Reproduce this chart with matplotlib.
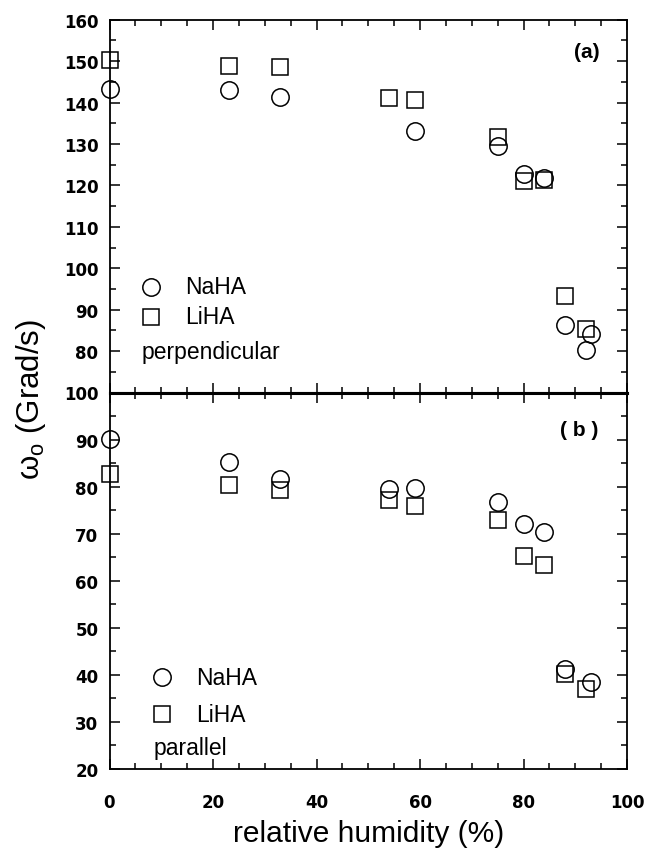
import matplotlib
matplotlib.use('Agg')
import matplotlib.pyplot as plt
from matplotlib.ticker import MultipleLocator

plt.rcParams['font.family'] = ['Liberation Sans', 'DejaVu Sans']
plt.rcParams['mathtext.fontset'] = 'custom'
plt.rcParams['mathtext.rm'] = 'Liberation Sans'

# (a) perpendicular
perp_na_x = [0, 23, 33, 59, 75, 80, 84, 88, 92, 93]
perp_na_y = [143.2, 143.0, 141.3, 133.2, 129.5, 122.7, 121.9, 86.4, 80.2, 84.2]
perp_li_x = [0, 23, 33, 54, 59, 75, 80, 84, 88, 92]
perp_li_y = [150.2, 148.8, 148.6, 141.2, 140.7, 131.6, 121.0, 121.3, 93.3, 85.4]

# (b) parallel
par_na_x = [0, 23, 33, 54, 59, 75, 80, 84, 88, 93]
par_na_y = [90.1, 85.2, 81.6, 79.4, 79.7, 76.7, 72.1, 70.3, 41.3, 38.5]
par_li_x = [0, 23, 33, 54, 59, 75, 80, 84, 88, 92]
par_li_y = [82.7, 80.4, 79.3, 77.2, 75.8, 72.9, 65.3, 63.4, 40.2, 37.0]

W, H = 647, 854
fig = plt.figure(figsize=(W / 100, H / 100), dpi=100)
left, right = 109.5 / W, 627 / W
ax_a = fig.add_axes([left, 1 - 393.5 / H, right - left, (393.5 - 20.7) / H])
ax_b = fig.add_axes([left, 1 - 770 / H, right - left, (770 - 393.5) / H])

circ = dict(marker='o', ms=12.5, mfc='none', mec='black', mew=1.1, ls='none', clip_on=False)
sq = dict(marker='s', ms=11, mfc='none', mec='black', mew=1.1, ls='none', clip_on=False)
tickfont = dict(family='DejaVu Sans', weight='bold', size=12)

def style(ax, ylo, yhi, yt):
    ax.set_xlim(0, 100)
    ax.set_ylim(ylo, yhi)
    ax.xaxis.set_major_locator(MultipleLocator(20))
    ax.xaxis.set_minor_locator(MultipleLocator(5))
    ax.set_yticks(yt)
    ax.set_yticklabels([str(v) for v in yt], fontdict=tickfont)
    ax.yaxis.set_minor_locator(MultipleLocator(5))
    ax.tick_params(which='both', direction='in', top=True, right=True, width=1.1)
    ax.tick_params(which='major', length=7)
    ax.tick_params(which='minor', length=4)
    ax.tick_params(axis='y', pad=8)
    ax.tick_params(axis='x', pad=17)
    for s in ax.spines.values():
        s.set_linewidth(1.3)

def key(ax, xm, xt, ys, labels, note, ynote, xnote):
    ax.plot([xm], [ys[0]], transform=ax.transAxes, **circ)
    ax.plot([xm], [ys[1]], transform=ax.transAxes, **sq)
    for y, lab in zip(ys, labels):
        ax.text(xt, y, lab, transform=ax.transAxes, fontsize=16.5, va='center')
    ax.text(xnote, ynote, note, transform=ax.transAxes, fontsize=16.5, va='center')

# top panel
ax_a.plot(perp_na_x, perp_na_y, **circ)
ax_a.plot(perp_li_x, perp_li_y, **sq)
style(ax_a, 70, 160, list(range(80, 161, 10)))
ax_a.tick_params(labelbottom=False)
ax_a.spines['bottom'].set_linewidth(2.2)
key(ax_a, 0.080, 0.147, [0.284, 0.203], ['NaHA', 'LiHA'], 'perpendicular', 0.111, 0.062)
ax_a.text(0.923, 0.916, '(a)', transform=ax_a.transAxes, fontsize=15,
          fontweight='bold', ha='center', va='center')

# bottom panel
ax_b.plot(par_na_x, par_na_y, **circ)
ax_b.plot(par_li_x, par_li_y, **sq)
style(ax_b, 20, 100, list(range(20, 101, 10)))
ax_b.set_xticks(range(0, 101, 20))
ax_b.set_xticklabels([str(v) for v in range(0, 101, 20)], fontdict=tickfont)
ax_b.spines['top'].set_linewidth(2.2)
key(ax_b, 0.102, 0.168, [0.244, 0.146], ['NaHA', 'LiHA'], 'parallel', 0.058, 0.086)
ax_b.text(0.907, 0.903, '( b )', transform=ax_b.transAxes, fontsize=15,
          fontweight='bold', ha='center', va='center')
ax_b.set_xlabel('relative humidity (%)', fontsize=21.5, labelpad=6)

fig.text(31 / W, 1 - 399 / H, 'ω$_{\\rm o}$ (Grad/s)', rotation=90,
         fontsize=22.5, ha='center', va='center')

fig.savefig('out.png', dpi=100)
